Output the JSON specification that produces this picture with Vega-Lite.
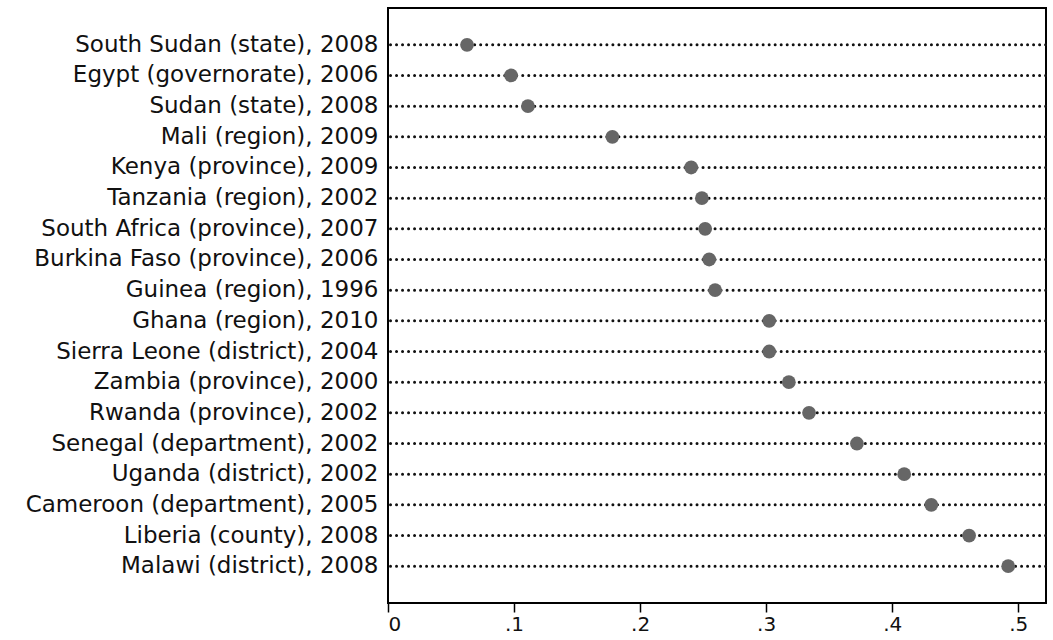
{
  "$schema": "https://vega.github.io/schema/vega-lite/v6.json",
  "width": 658,
  "height": 595,
  "autosize": "none",
  "padding": {"left": 388, "top": 8, "right": 7, "bottom": 37},
  "background": "white",
  "config": {
    "view": {"stroke": "black", "strokeWidth": 2},
    "font": "DejaVu Sans"
  },
  "data": {
    "values": [
      {"unit": "South Sudan (state), 2008", "v": 0.0627},
      {"unit": "Egypt (governorate), 2006", "v": 0.0976},
      {"unit": "Sudan (state), 2008", "v": 0.111},
      {"unit": "Mali (region), 2009", "v": 0.178},
      {"unit": "Kenya (province), 2009", "v": 0.2405},
      {"unit": "Tanzania (region), 2002", "v": 0.249},
      {"unit": "South Africa (province), 2007", "v": 0.2516},
      {"unit": "Burkina Faso (province), 2006", "v": 0.2548},
      {"unit": "Guinea (region), 1996", "v": 0.2595},
      {"unit": "Ghana (region), 2010", "v": 0.3024},
      {"unit": "Sierra Leone (district), 2004", "v": 0.3024},
      {"unit": "Zambia (province), 2000", "v": 0.318},
      {"unit": "Rwanda (province), 2002", "v": 0.334},
      {"unit": "Senegal (department), 2002", "v": 0.372},
      {"unit": "Uganda (district), 2002", "v": 0.4095},
      {"unit": "Cameroon (department), 2005", "v": 0.431},
      {"unit": "Liberia (county), 2008", "v": 0.461},
      {"unit": "Malawi (district), 2008", "v": 0.492}
    ]
  },
  "encoding": {
    "y": {
      "field": "unit",
      "type": "nominal",
      "sort": null,
      "scale": {"type": "band", "paddingInner": 0, "paddingOuter": 0.7},
      "axis": {
        "title": null,
        "ticks": false,
        "domain": false,
        "grid": false,
        "labelFont": "DejaVu Sans",
        "labelFontSize": 23,
        "labelColor": "#111",
        "labelPadding": 10,
        "labelLimit": 400
      }
    }
  },
  "layer": [
    {
      "mark": {"type": "rule", "strokeDash": [0.01, 6], "strokeWidth": 3, "color": "#111", "strokeCap": "round"},
      "encoding": {
        "x": {"datum": 0.002, "type": "quantitative"},
        "x2": {"datum": 0.522}
      }
    },
    {
      "mark": {"type": "point", "shape": "circle", "filled": true, "color": "#666666", "size": 190, "opacity": 1},
      "encoding": {
        "x": {
          "field": "v",
          "type": "quantitative",
          "scale": {"domain": [0, 0.522], "nice": false, "zero": true},
          "axis": {
            "title": null,
            "values": [0, 0.1, 0.2, 0.3, 0.4, 0.5],
            "labelExpr": "datum.value == 0 ? '0' : replace(format(datum.value, '.1f'), '0.', '.')",
            "grid": false,
            "domain": false,
            "tickColor": "black",
            "tickSize": 9,
            "tickWidth": 1.5,
            "labelFont": "DejaVu Sans",
            "labelFontSize": 20,
            "labelColor": "#111",
            "labelPadding": 2
          }
        }
      }
    }
  ]
}
